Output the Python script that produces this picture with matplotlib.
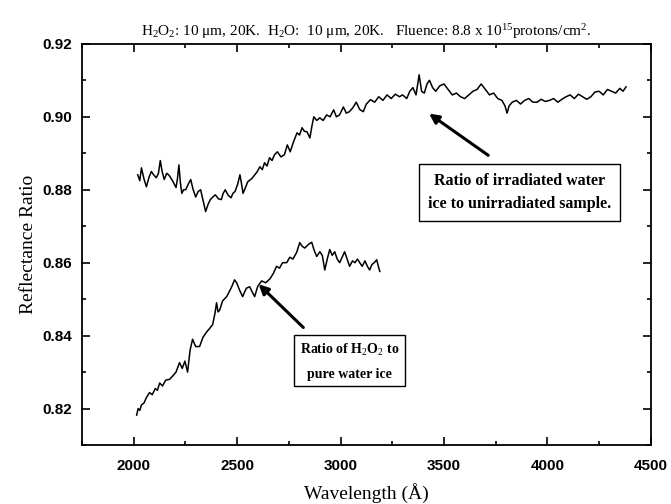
import matplotlib
matplotlib.use("Agg")
import matplotlib.pyplot as plt
from matplotlib.ticker import MultipleLocator

plt.rcParams['mathtext.fontset'] = 'custom'
plt.rcParams['mathtext.rm'] = 'Liberation Serif'
plt.rcParams['mathtext.it'] = 'Liberation Serif:italic'
plt.rcParams['mathtext.bf'] = 'Liberation Serif:bold'

# Ratio of irradiated water ice to unirradiated sample
irr_wl = [2020, 2030, 2038, 2050, 2062, 2075, 2086, 2098, 2110, 2120, 2129, 2138, 2148, 2160, 2171,
          2188, 2205, 2212, 2219, 2226, 2233, 2242, 2252, 2264, 2276, 2288, 2300, 2312, 2324, 2336,
          2348, 2360, 2371, 2383, 2395, 2410, 2424, 2433, 2443, 2457, 2471, 2480, 2490, 2503, 2514,
          2522, 2529, 2540, 2552, 2570, 2586, 2598, 2610, 2622, 2633, 2645, 2657, 2669, 2681, 2695,
          2712, 2729, 2743, 2757, 2772, 2790, 2802, 2814, 2826, 2838, 2852, 2862, 2871, 2885, 2900,
          2916, 2933, 2950, 2967, 2980, 2995, 3014, 3028, 3043, 3060, 3076, 3093, 3110, 3125, 3145,
          3165, 3185, 3205, 3225, 3245, 3265, 3285, 3300, 3320, 3335, 3350, 3365, 3380, 3392, 3405,
          3418, 3430, 3445, 3460, 3480, 3500, 3520, 3540, 3560, 3580, 3600, 3620, 3640, 3660, 3680,
          3700, 3720, 3740, 3760, 3780, 3795, 3805, 3815, 3830, 3850, 3870, 3890, 3910, 3930, 3950,
          3970, 3990, 4010, 4030, 4050, 4070, 4090, 4110, 4130, 4150, 4170, 4190, 4210, 4230, 4250,
          4270, 4290, 4310, 4330, 4350, 4365, 4380]
irr_ratio = [0.8841, 0.8825, 0.8860, 0.8830, 0.8808, 0.8835, 0.8850, 0.8840, 0.8833, 0.8845, 0.8880,
             0.8850, 0.8828, 0.8845, 0.8840, 0.8825, 0.8806, 0.8830, 0.8868, 0.8820, 0.8790, 0.8800,
             0.8800, 0.8815, 0.8828, 0.8800, 0.8780, 0.8795, 0.8800, 0.8770, 0.8740, 0.8760, 0.8773,
             0.8780, 0.8786, 0.8775, 0.8773, 0.8790, 0.8800, 0.8785, 0.8778, 0.8790, 0.8795, 0.8815,
             0.8841, 0.8815, 0.8790, 0.8805, 0.8822, 0.8830, 0.8841, 0.8850, 0.8863, 0.8855, 0.8874,
             0.8865, 0.8888, 0.8880, 0.8896, 0.8904, 0.8890, 0.8896, 0.8923, 0.8904, 0.8930, 0.8956,
             0.8950, 0.8970, 0.8960, 0.8959, 0.8942, 0.8975, 0.9000, 0.8990, 0.8997, 0.8990, 0.9005,
             0.9000, 0.9019, 0.9000, 0.9005, 0.9027, 0.9010, 0.9014, 0.9025, 0.9040, 0.9020, 0.9014,
             0.9035, 0.9047, 0.9040, 0.9055, 0.9045, 0.9060, 0.9050, 0.9062, 0.9055, 0.9060, 0.9050,
             0.9070, 0.9080, 0.9060, 0.9115, 0.9070, 0.9065, 0.9090, 0.9100, 0.9080, 0.9070, 0.9085,
             0.9090, 0.9075, 0.9060, 0.9065, 0.9055, 0.9050, 0.9060, 0.9070, 0.9075, 0.9090, 0.9075,
             0.9060, 0.9065, 0.9050, 0.9045, 0.9030, 0.9010, 0.9030, 0.9040, 0.9045, 0.9035, 0.9045,
             0.9050, 0.9040, 0.9040, 0.9048, 0.9042, 0.9045, 0.9050, 0.9040, 0.9048, 0.9055, 0.9060,
             0.9050, 0.9062, 0.9055, 0.9048, 0.9055, 0.9068, 0.9070, 0.9060, 0.9075, 0.9070, 0.9065,
             0.9078, 0.9070, 0.9082]

# Ratio of H2O2 to pure water ice
h2o2_wl = [2015, 2022, 2030, 2038, 2050, 2062, 2077, 2090, 2105, 2115, 2126, 2140, 2155, 2174, 2190,
           2205, 2222, 2235, 2248, 2261, 2273, 2285, 2300, 2319, 2335, 2353, 2368, 2382, 2393, 2401,
           2408, 2416, 2430, 2450, 2462, 2475, 2488, 2498, 2512, 2527, 2545, 2561, 2573, 2585, 2600,
           2619, 2638, 2658, 2675, 2691, 2705, 2720, 2740, 2755, 2770, 2788, 2803, 2815, 2827, 2845,
           2861, 2872, 2885, 2900, 2912, 2924, 2936, 2948, 2960, 2972, 2984, 2996, 3008, 3020, 3032,
           3044, 3058, 3070, 3082, 3093, 3105, 3118, 3130, 3141, 3152, 3163, 3175, 3183, 3190]
h2o2_ratio = [0.8182, 0.8200, 0.8195, 0.8210, 0.8215, 0.8230, 0.8244, 0.8238, 0.8255, 0.8250, 0.8270,
              0.8262, 0.8278, 0.8280, 0.8290, 0.8300, 0.8326, 0.8310, 0.8330, 0.8300, 0.8360, 0.8390,
              0.8370, 0.8370, 0.8395, 0.8410, 0.8420, 0.8430, 0.8460, 0.8490, 0.8465, 0.8470, 0.8495,
              0.8507, 0.8520, 0.8535, 0.8553, 0.8545, 0.8525, 0.8507, 0.8530, 0.8534, 0.8520, 0.8507,
              0.8535, 0.8550, 0.8545, 0.8555, 0.8570, 0.8590, 0.8585, 0.8600, 0.8600, 0.8615, 0.8610,
              0.8628, 0.8655, 0.8645, 0.8640, 0.8650, 0.8656, 0.8635, 0.8617, 0.8630, 0.8620, 0.8580,
              0.8610, 0.8636, 0.8620, 0.8630, 0.8610, 0.8600, 0.8615, 0.8630, 0.8610, 0.8590, 0.8605,
              0.8600, 0.8610, 0.8600, 0.8590, 0.8605, 0.8590, 0.8580, 0.8595, 0.8600, 0.8608, 0.8590,
              0.8576]

x_ticks = [2000, 2500, 3000, 3500, 4000, 4500]
y_ticks = [0.82, 0.84, 0.86, 0.88, 0.90, 0.92]

fig = plt.figure(figsize=(6.71, 5.04), dpi=100)
ax = fig.add_axes([0.122, 0.117, 0.848, 0.796])

ax.plot(irr_wl, irr_ratio, color='black', lw=1.1)
ax.plot(h2o2_wl, h2o2_ratio, color='black', lw=1.1)

ax.set_xlim(1750, 4500)
ax.set_ylim(0.81, 0.92)
ax.set_xticks(x_ticks)
ax.set_yticks(y_ticks)
ax.set_yticklabels([f"{v:.2f}" for v in y_ticks])
ax.xaxis.set_minor_locator(MultipleLocator(250))
ax.yaxis.set_minor_locator(MultipleLocator(0.01))
ax.tick_params(which='both', direction='in', top=True, right=True, width=1.2)
ax.tick_params(which='major', length=6)
ax.tick_params(which='minor', length=3)
for lab in ax.get_xticklabels() + ax.get_yticklabels():
    lab.set_fontfamily('Liberation Sans')
    lab.set_fontweight('bold')
    lab.set_fontsize(11)
ax.tick_params(axis='x', pad=10)
ax.tick_params(axis='y', pad=7)
for sp in ax.spines.values():
    sp.set_linewidth(1.3)

ax.set_xlabel("Wavelength (Å)", fontfamily='Liberation Serif', fontsize=14, labelpad=7)
ax.set_ylabel("Reflectance Ratio", fontfamily='Liberation Serif', fontsize=14, labelpad=4)
ax.set_title(r"H$_2$O$_2$: 10 μm, 20K.  H$_2$O:  10 μm, 20K.   Fluence: 8.8 x 10$^{15}$protons/cm$^2$.",
             fontfamily='Liberation Serif', fontsize=11, pad=6)

ax.annotate("", xy=(3417, 0.9013), xytext=(3725, 0.8890),
            arrowprops=dict(arrowstyle='-|>', color='black', lw=2.2, mutation_scale=14))
ax.annotate("", xy=(2595, 0.8546), xytext=(2830, 0.8417),
            arrowprops=dict(arrowstyle='-|>', color='black', lw=2.2, mutation_scale=14))

ax.text(3867, 0.8793, "Ratio of irradiated water\nice to unirradiated sample.",
        fontfamily='Liberation Serif', fontweight='bold', fontsize=11.5, ha='center', va='center',
        linespacing=1.6,
        bbox=dict(boxstyle='square,pad=0.55', facecolor='white', edgecolor='black', lw=1.0))
ax.text(3045, 0.8330, "Ratio of H$_2$O$_2$ to\npure water ice",
        fontfamily='Liberation Serif', fontweight='bold', fontsize=10, ha='center', va='center',
        linespacing=2.0,
        bbox=dict(boxstyle='square,pad=0.4', facecolor='white', edgecolor='black', lw=1.0))

fig.savefig("out.png", dpi=100)
